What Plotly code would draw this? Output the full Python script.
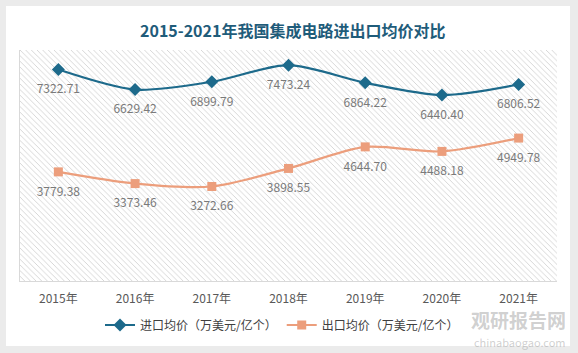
import plotly.graph_objects as go

years = ["2015年", "2016年", "2017年", "2018年", "2019年", "2020年", "2021年"]
import_price = [7322.71, 6629.42, 6899.79, 7473.24, 6864.22, 6440.40, 6806.52]
export_price = [3779.38, 3373.46, 3272.66, 3898.55, 4644.70, 4488.18, 4949.78]
import_name = "进口均价（万美元/亿个）"
export_name = "出口均价（万美元/亿个）"
title_text = "2015-2021年我国集成电路进出口均价对比"

BLUE = "#1d6a8b"
ORANGE = "#ec9e7c"
FONT = "Noto Sans CJK SC"

W, H = 578, 353
L, R, T, B = 20, 21, 50, 72
pw, ph = W - L - R, H - T - B


def px_x(px):
    return (px - L) / pw


def px_y(py):
    return (H - B - py) / ph


fig = go.Figure()

# hatched background of plot area (on hidden unit axes)
fig.add_trace(go.Scatter(
    x=[0, 1, 1, 0, 0], y=[0, 0, 1, 1, 0], xaxis="x", yaxis="y",
    mode="lines", line=dict(width=0), fill="toself", fillcolor="#d2d2d2",
    fillpattern=dict(shape="\\", fgcolor="#d2d2d2", bgcolor="white",
                     size=4, solidity=0.22, fillmode="replace"),
    hoverinfo="skip", showlegend=False,
))

for name, vals, color, sym, msize in [
    (import_name, import_price, BLUE, "diamond", 10),
    (export_name, export_price, ORANGE, "square", 9),
]:
    fig.add_trace(go.Scatter(
        x=years, y=vals, xaxis="x2", yaxis="y2", name=name,
        mode="lines+markers", line=dict(color=color, width=2.2, shape="spline", smoothing=0.8),
        marker=dict(symbol=sym, size=msize, color=color),
    ))
    fig.add_trace(go.Scatter(
        x=years, y=vals, xaxis="x2", yaxis="y2", showlegend=False, hoverinfo="skip",
        mode="markers+text", marker=dict(size=22, opacity=0),
        texttemplate="%{y:.2f}", textposition="bottom center",
        textfont=dict(color="#7a7a7a", size=12, family=FONT),
    ))

shapes = [dict(type="rect", xref="paper", yref="paper",
               x0=px_x(6), x1=px_x(570), y0=px_y(346), y1=px_y(6),
               fillcolor="white", line=dict(width=0), layer="below")]

annotations = [
    dict(text="<b>" + title_text + "</b>", xref="paper", yref="paper",
         x=px_x(292), y=px_y(30), xanchor="center", yanchor="middle", showarrow=False,
         font=dict(size=16, color="#1f5c7a", family=FONT)),
    dict(text="<b>观研报告网</b>", xref="paper", yref="paper",
         x=px_x(568), y=px_y(319), xanchor="right", yanchor="middle", showarrow=False,
         font=dict(size=19, color="rgba(150,150,150,0.45)", family=FONT)),
    dict(text="chinabaogao.com", xref="paper", yref="paper",
         x=px_x(568), y=px_y(341.5), xanchor="right", yanchor="middle", showarrow=False,
         font=dict(size=11, color="rgba(150,150,150,0.45)", family=FONT)),
]

fig.update_layout(
    width=W, height=H,
    margin=dict(l=L, r=R, t=T, b=B),
    paper_bgcolor="#ebebeb", plot_bgcolor="white",
    font=dict(family=FONT, color="#404040"),
    xaxis=dict(range=[0, 1], visible=False, fixedrange=True),
    yaxis=dict(range=[0, 1], visible=False, fixedrange=True),
    xaxis2=dict(overlaying="x", anchor="y2", type="category", tickson="boundaries",
                showgrid=True, gridcolor="#dedede", gridwidth=1,
                showline=True, linecolor="#d9d9d9", linewidth=1,
                ticks="", ticklabelstandoff=7,
                tickfont=dict(size=12, color="#595959", family=FONT),
                range=[-0.5, 6.5]),
    yaxis2=dict(overlaying="y", anchor="x2", range=[0, 8000], showgrid=False,
                showticklabels=False, zeroline=False,
                showline=True, linecolor="#d9d9d9", linewidth=1),
    legend=dict(orientation="h", x=px_x(282), xanchor="center", y=px_y(325), yanchor="middle",
                font=dict(size=12, color="#404040", family=FONT),
                bgcolor="rgba(0,0,0,0)", itemwidth=30, tracegroupgap=0),
    showlegend=True,
    shapes=shapes,
    annotations=annotations,
)

fig.write_html("out.html")
